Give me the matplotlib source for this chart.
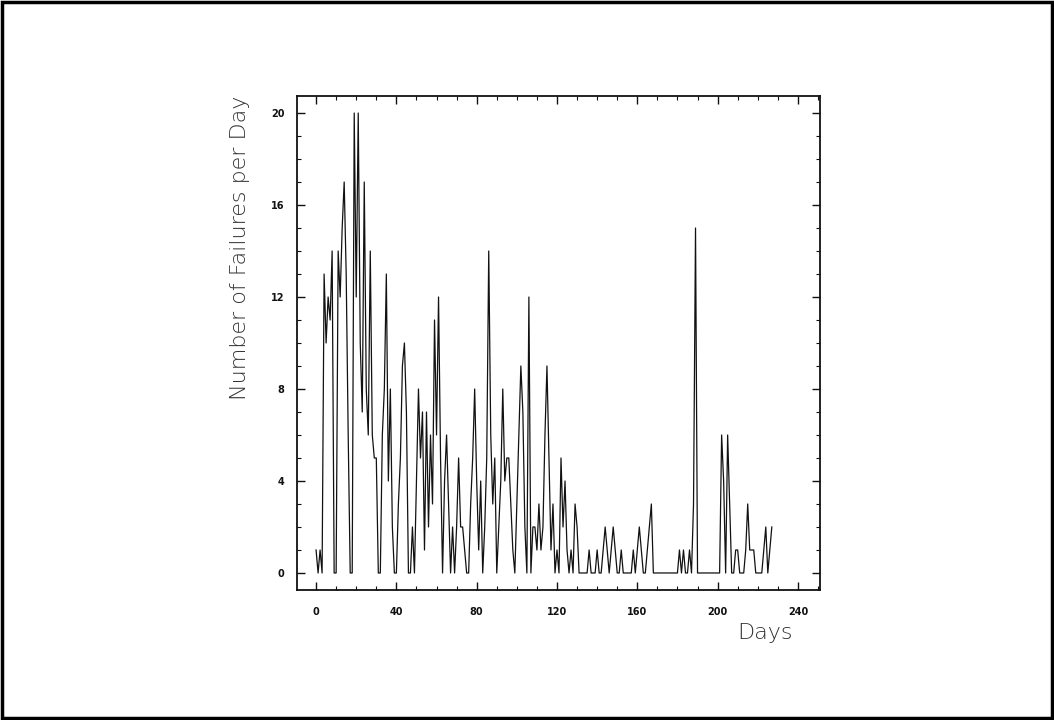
import matplotlib
matplotlib.use("Agg")
import matplotlib.pyplot as plt
from matplotlib.patches import Rectangle
from matplotlib.ticker import MultipleLocator

# Daily failure counts (day 0 .. 227)
failures_d000 = [1, 0, 1, 0, 13, 10, 12, 11, 14, 0,
                 0, 14, 12, 15, 17, 13, 6, 0, 0, 20,
                 12, 20, 10, 7, 17, 8, 6, 14, 6, 5,
                 5, 0, 0, 6, 8, 13, 4, 8, 2, 0]
failures_d040 = [0, 3, 5, 9, 10, 7, 0, 0, 2, 0,
                 4, 8, 5, 7, 1, 7, 2, 6, 3, 11,
                 6, 12, 5, 0, 4, 6, 3, 0, 2, 0,
                 2, 5, 2, 2, 1, 0, 0, 3, 5, 8]
failures_d080 = [4, 1, 4, 0, 2, 5, 14, 6, 3, 5,
                 0, 2, 4, 8, 4, 5, 5, 3, 1, 0,
                 3, 6, 9, 7, 2, 0, 12, 0, 2, 2,
                 1, 3, 1, 2, 6, 9, 5, 1, 3, 0]
failures_d120 = [1, 0, 5, 2, 4, 1, 0, 1, 0, 3,
                 2, 0, 0, 0, 0, 0, 1, 0, 0, 0,
                 1, 0, 0, 1, 2, 1, 0, 1, 2, 1,
                 0, 0, 1, 0, 0, 0, 0, 0, 1, 0]
failures_d160 = [1, 2, 1, 0, 0, 1, 2, 3, 0, 0,
                 0, 0, 0, 0, 0, 0, 0, 0, 0, 0,
                 0, 1, 0, 1, 0, 0, 1, 0, 3, 15,
                 0, 0, 0, 0, 0, 0, 0, 0, 0, 0]
failures_d200 = [0, 0, 6, 4, 0, 6, 3, 0, 0, 1,
                 1, 0, 0, 0, 1, 3, 1, 1, 1, 0,
                 0, 0, 0, 1, 2, 0, 1, 2]

failures = (failures_d000 + failures_d040 + failures_d080 +
            failures_d120 + failures_d160 + failures_d200)
days = list(range(len(failures)))

x_ticks = [0, 40, 80, 120, 160, 200, 240]
y_ticks = [0, 4, 8, 12, 16, 20]

W, H = 1054, 720
fig = plt.figure(figsize=(W / 100, H / 100), dpi=100)
fig.patch.set_facecolor("white")

ax = fig.add_axes([297 / W, 1 - 590 / H, (820 - 297) / W, (590 - 96) / H])
ax.plot(days, failures, color="#111111", linewidth=0.9)

ax.set_xlim(-9.5, 251)
ax.set_ylim(-0.74, 20.74)
ax.set_xticks(x_ticks)
ax.set_yticks(y_ticks)
ax.xaxis.set_minor_locator(MultipleLocator(10))
ax.yaxis.set_minor_locator(MultipleLocator(1))
ax.tick_params(which="both", direction="in", top=True, right=True,
               colors="#111111", labelsize=7)
ax.tick_params(which="major", length=6, width=1.0)
ax.tick_params(axis="x", which="major", pad=12)
ax.tick_params(axis="y", which="major", pad=9)
ax.tick_params(which="minor", length=3, width=0.8)
for lab in ax.get_xticklabels() + ax.get_yticklabels():
    lab.set_fontweight("bold")
for s in ax.spines.values():
    s.set_linewidth(1.3)
    s.set_color("#111111")

fig.text(240 / W, 1 - 248 / H, "Number of Failures per Day", rotation=90,
         ha="center", va="center", fontsize=16, color="#333333",
         fontweight="light")
fig.text(765 / W, 1 - 633 / H, "Days", ha="center", va="center",
         fontsize=16, color="#333333", fontweight="light")

fig.patches.append(Rectangle((0.002, 0.003), 0.996, 0.994, transform=fig.transFigure,
                             fill=False, edgecolor="black", linewidth=2.5))

fig.savefig("out.png", dpi=100)
